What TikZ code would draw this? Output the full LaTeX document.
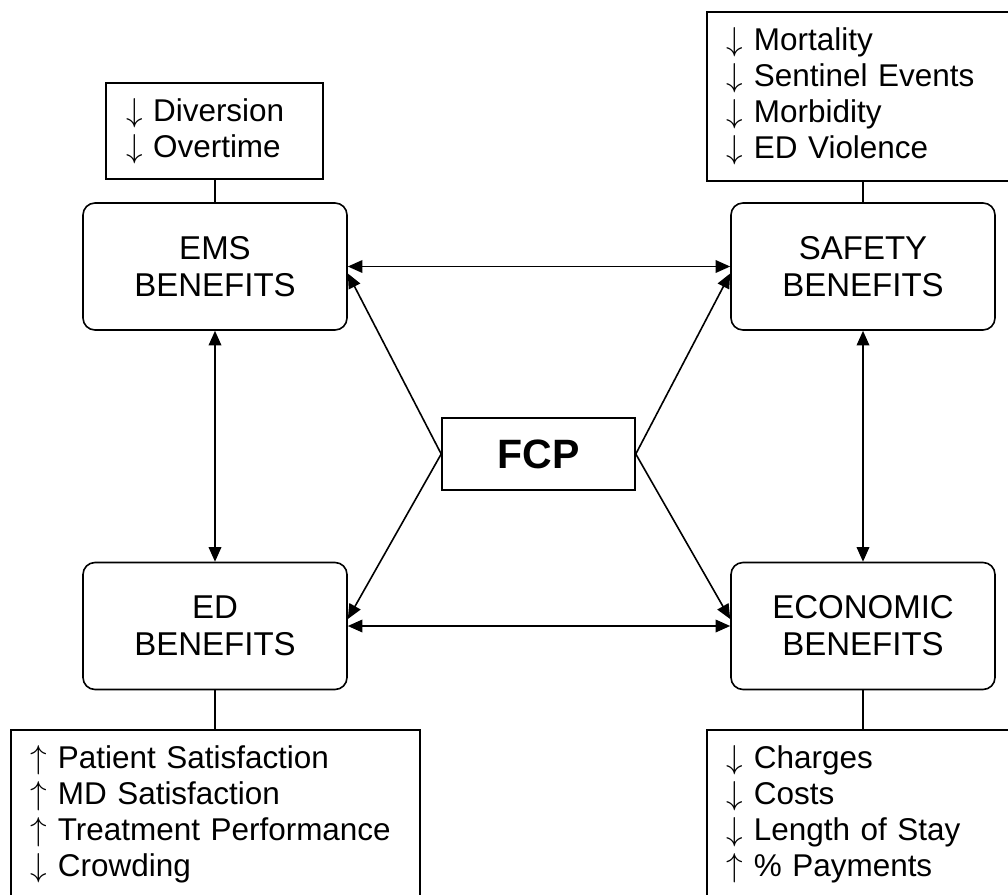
\documentclass[tikz,border=0pt]{standalone}
\usepackage{fontspec}
\setmainfont{Liberation Sans}
\usetikzlibrary{arrows.meta}
\newcommand{\dn}{$\downarrow$}
\newcommand{\up}{$\uparrow$}
\begin{document}
\begin{tikzpicture}[x=0.75pt,y=-0.75pt,line width=1.2pt,>={Triangle[length=11pt,width=9.5pt]}]
	\tikzstyle{benefit} = [draw,rectangle,rounded corners=9pt,minimum width=198pt,minimum height=95.25pt,align=center,font=\fontsize{24.75}{27.75}\selectfont]
	\tikzstyle{list} = [draw,rectangle,inner xsep=15pt,align=left,font=\fontsize{23.6}{27}\selectfont]
	\useasboundingbox (0,0) rectangle (1008,894);
	\node[benefit](ems)at (215,266.5){EMS\\BENEFITS};
	\node[benefit](safety)at (863,266.5){SAFETY\\BENEFITS};
	\node[benefit](ed)at (215,626){ED\\BENEFITS};
	\node[benefit](econ)at (863,626){ECONOMIC\\BENEFITS};
	\node[draw,rectangle,minimum width=144.75pt,minimum height=54pt,font=\fontsize{30.75}{34}\selectfont\bfseries](fcp)at (538.5,454){FCP};
	\node[list,text width=132.75pt,minimum height=72pt](emslist)at (214.5,131){\dn{} Diversion\\\dn{} Overtime};
	\node[list,anchor=north west,text width=210pt,minimum height=126.75pt](safetylist)at (706,11){\dn{} Mortality\\\dn{} Sentinel Events\\\dn{} Morbidity\\\dn{} ED Violence};
	\node[list,anchor=north west,text width=276.75pt,inner ysep=12pt](edlist)at (10,729){\up{} Patient Satisfaction\\\up{} MD Satisfaction\\\up{} Treatment Performance\\\dn{} Crowding};
	\node[list,anchor=north west,text width=210pt,inner ysep=12pt](econlist)at (706,729){\dn{} Charges\\\dn{} Costs\\\dn{} Length of Stay\\\up{} \% Payments};
	\draw (ems.north) -- (ems.north |- emslist.south);
	\draw (safety.north) -- (safety.north |- safetylist.south);
	\draw (ed.south) -- (ed.south |- edlist.north);
	\draw (econ.south) -- (econ.south |- econlist.north);
	\path[<->] (ems) edge (safety)
	(ed) edge (econ)
	(ems) edge (ed)
	(safety) edge (econ);
	\path[->] (fcp.west) edge (ems.-3)
	(fcp.west) edge (ed.3)
	(fcp.east) edge (safety.183)
	(fcp.east) edge (econ.177);
\end{tikzpicture}
\end{document}
